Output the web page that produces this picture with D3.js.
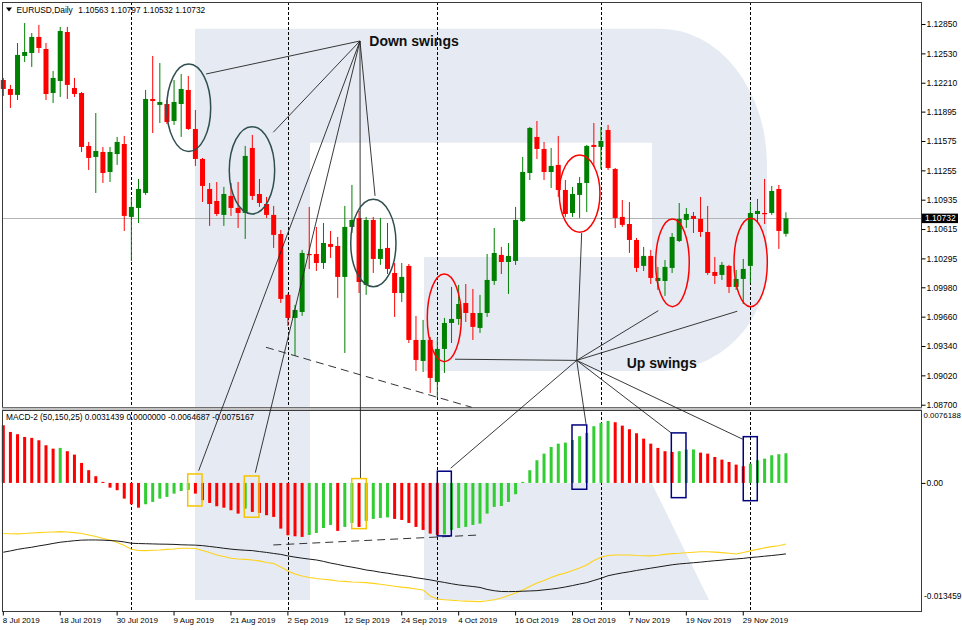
<!DOCTYPE html>
<html><head><meta charset="utf-8">
<script src="https://cdn.jsdelivr.net/npm/d3@7"></script>
<style>html,body{margin:0;padding:0;background:#fff;overflow:hidden}
svg text{font-family:"Liberation Sans",Arial,sans-serif}</style>
</head><body>
<svg id="c" width="962" height="630"></svg>
<script>
// ---------- DATA ----------
const symbol = "EURUSD,Daily";
const firstDate = "2019-07-08";
const open = [1.12240,1.12142,1.12077,1.12502,1.12534,1.12709,1.12578,1.12098,1.12229,1.12763,
1.12153,1.12098,1.11521,1.11401,1.11455,1.11237,1.11433,1.11542,1.10747,1.10845,
1.11008,1.12033,1.11968,1.11978,1.11793,1.11978,1.12131,1.11706,1.11379,1.11052,
1.10921,1.10769,1.10976,1.10845,1.10790,1.11499,1.10997,1.10888,1.10769,1.10561,
1.09897,1.09646,1.09711,1.10343,1.10343,1.10245,1.10452,1.10431,1.10093,1.10638,
1.10736,1.10006,1.10714,1.10289,1.10409,1.10136,1.09918,1.10213,1.09406,1.09177,
1.09406,1.08948,1.09308,1.09591,1.09635,1.09809,1.09700,1.09537,1.09700,1.10049,
1.10333,1.10256,1.10267,1.10703,1.11226,1.11619,1.11488,1.11237,1.11314,1.11041,
1.10790,1.10987,1.11117,1.11532,1.11510,1.11695,1.11270,1.10747,1.10670,1.10496,
1.10213,1.10322,1.10049,1.10049,1.10191,1.10485,1.10714,1.10758,1.10725,1.10583,
1.10147,1.10115,1.10213,1.09984,1.10071,1.10213,1.10779,1.10790,1.10790,1.11052,1.10563];
const high = [1.12262,1.12186,1.12643,1.12861,1.12752,1.12840,1.12643,1.12338,1.12818,1.12818,
1.12262,1.12109,1.11564,1.11880,1.11510,1.11510,1.11619,1.11630,1.10954,1.11161,
1.12131,1.12502,1.12425,1.12022,1.12240,1.12305,1.12284,1.11913,1.11390,1.11117,
1.11128,1.11074,1.11117,1.11128,1.11521,1.11641,1.11161,1.10965,1.10867,1.10605,
1.09910,1.09788,1.10387,1.10856,1.10638,1.10681,1.10594,1.10529,1.10867,1.11096,
1.10812,1.10747,1.10747,1.10736,1.10681,1.10245,1.10245,1.10234,1.09668,1.09624,
1.09439,1.09428,1.09646,1.09984,1.10006,1.10016,1.09962,1.09897,1.10343,1.10627,
1.10420,1.10463,1.10856,1.11401,1.11728,1.11793,1.11564,1.11499,1.11630,1.11150,
1.11074,1.11183,1.11532,1.11771,1.11728,1.11750,1.11281,1.10932,1.10910,1.10518,
1.10420,1.10387,1.10202,1.10278,1.10572,1.10899,1.10845,1.10801,1.10965,1.10867,
1.10311,1.10256,1.10224,1.10169,1.10289,1.10899,1.10943,1.11161,1.11085,1.11096,1.10797];
const low = [1.12066,1.11935,1.12022,1.12436,1.12382,1.12534,1.12022,1.11989,1.12055,1.12033,
1.12055,1.11455,1.11259,1.11008,1.11117,1.11128,1.11314,1.10594,1.10267,1.10681,
1.10987,1.11662,1.11771,1.11760,1.11750,1.11619,1.11695,1.11303,1.10910,1.10649,
1.10758,1.10649,1.10758,1.10627,1.10507,1.10932,1.10856,1.10736,1.10409,1.09809,
1.09559,1.09232,1.09668,1.10180,1.10158,1.10180,1.10300,1.09864,1.09264,1.10572,
1.09918,1.09897,1.10136,1.10224,1.10125,1.09657,1.09820,1.09373,1.09068,1.09057,
1.08828,1.08774,1.09046,1.09373,1.09570,1.09602,1.09406,1.09482,1.09657,1.10006,
1.10125,1.09907,1.10224,1.10692,1.11150,1.11379,1.11150,1.11063,1.10965,1.10747,
1.10747,1.10736,1.10801,1.11292,1.11270,1.11259,1.10627,1.10638,1.10354,1.10147,
1.10158,1.10016,1.09951,1.09886,1.10136,1.10474,1.10627,1.10572,1.10529,1.10115,
1.10016,1.10060,1.09918,1.09951,1.09798,1.10027,1.10692,1.10670,1.10769,1.10398,1.10532];
const close = [1.12142,1.12077,1.12513,1.12545,1.12709,1.12589,1.12087,1.12262,1.12774,1.12186,
1.12087,1.11510,1.11390,1.11466,1.11226,1.11455,1.11564,1.10758,1.10856,1.11052,
1.12033,1.12011,1.12000,1.11782,1.12000,1.12142,1.11706,1.11379,1.11085,1.10888,
1.10779,1.10997,1.10845,1.10790,1.11412,1.10976,1.10899,1.10769,1.10551,1.09853,
1.09646,1.09733,1.10354,1.10333,1.10245,1.10463,1.10420,1.10093,1.10638,1.10714,
1.10038,1.10714,1.10289,1.10398,1.10180,1.09918,1.10093,1.09406,1.09188,1.09406,
1.08992,1.09308,1.09591,1.09635,1.09798,1.09700,1.09548,1.09700,1.10060,1.10354,
1.10256,1.10322,1.10714,1.11237,1.11717,1.11488,1.11237,1.11303,1.11041,1.10779,
1.10997,1.11117,1.11521,1.11510,1.11575,1.11281,1.10736,1.10660,1.10496,1.10191,
1.10322,1.10082,1.10082,1.10202,1.10529,1.10725,1.10779,1.10725,1.10583,1.10136,
1.10104,1.10224,1.09984,1.10071,1.10180,1.10790,1.10812,1.10779,1.11030,1.10594,1.10732];

// MACD-2 (50,150,25) histogram and two lines
const macdHist = [0.00611,0.00540,0.00516,0.00487,0.00477,0.00452,0.00399,0.00363,0.00371,0.00336,
0.00300,0.00212,0.00135,0.00071,0.00011,-0.00050,-0.00077,-0.00166,-0.00226,-0.00262,
-0.00226,-0.00201,-0.00166,-0.00148,-0.00113,-0.00085,-0.00074,-0.00113,-0.00183,-0.00212,
-0.00247,-0.00262,-0.00289,-0.00325,-0.00272,-0.00307,-0.00318,-0.00342,-0.00360,-0.00484,
-0.00554,-0.00565,-0.00572,-0.00551,-0.00530,-0.00477,-0.00445,-0.00508,-0.00466,-0.00424,
-0.00466,-0.00402,-0.00381,-0.00371,-0.00365,-0.00381,-0.00392,-0.00424,-0.00466,-0.00498,
-0.00537,-0.00551,-0.00545,-0.00498,-0.00477,-0.00466,-0.00445,-0.00431,-0.00325,-0.00254,
-0.00244,-0.00201,-0.00120,0.00011,0.00135,0.00240,0.00310,0.00381,0.00416,0.00427,
0.00455,0.00495,0.00530,0.00601,0.00636,0.00657,0.00643,0.00607,0.00569,0.00526,
0.00469,0.00416,0.00371,0.00336,0.00328,0.00336,0.00353,0.00355,0.00321,0.00310,
0.00275,0.00247,0.00222,0.00194,0.00177,0.00204,0.00240,0.00257,0.00293,0.00304,0.0031439];
const macdYellow = [-0.00535,-0.00538,-0.00540,-0.00535,-0.00530,-0.00526,-0.00522,-0.00519,-0.00516,-0.00519,
-0.00526,-0.00535,-0.00551,-0.00567,-0.00588,-0.00604,-0.00630,-0.00662,-0.00702,-0.00715,
-0.00717,-0.00713,-0.00710,-0.00704,-0.00699,-0.00692,-0.00692,-0.00694,-0.00715,-0.00736,
-0.00763,-0.00779,-0.00798,-0.00805,-0.00810,-0.00816,-0.00826,-0.00842,-0.00853,-0.00890,
-0.00932,-0.00964,-0.00985,-0.01001,-0.01012,-0.01020,-0.01027,-0.01038,-0.01043,-0.01049,
-0.01052,-0.01056,-0.01064,-0.01073,-0.01084,-0.01094,-0.01104,-0.01112,-0.01123,-0.01133,
-0.01197,-0.01229,-0.01237,-0.01242,-0.01248,-0.01252,-0.01255,-0.01257,-0.01248,-0.01237,
-0.01218,-0.01192,-0.01165,-0.01133,-0.01096,-0.01059,-0.01033,-0.01001,-0.00974,-0.00953,
-0.00927,-0.00900,-0.00869,-0.00821,-0.00787,-0.00768,-0.00763,-0.00763,-0.00763,-0.00768,
-0.00771,-0.00773,-0.00766,-0.00757,-0.00749,-0.00745,-0.00739,-0.00734,-0.00729,-0.00729,
-0.00733,-0.00738,-0.00744,-0.00752,-0.00736,-0.00720,-0.00704,-0.00688,-0.00675,-0.00665,-0.0064687];
const macdBlack = [-0.00734,-0.00720,-0.00704,-0.00692,-0.00681,-0.00667,-0.00655,-0.00641,-0.00628,-0.00620,
-0.00612,-0.00606,-0.00604,-0.00604,-0.00606,-0.00610,-0.00615,-0.00625,-0.00639,-0.00642,
-0.00644,-0.00646,-0.00648,-0.00649,-0.00651,-0.00655,-0.00657,-0.00659,-0.00664,-0.00673,
-0.00682,-0.00692,-0.00701,-0.00708,-0.00713,-0.00717,-0.00727,-0.00736,-0.00747,-0.00757,
-0.00773,-0.00786,-0.00797,-0.00807,-0.00816,-0.00831,-0.00849,-0.00863,-0.00879,-0.00892,
-0.00906,-0.00922,-0.00932,-0.00946,-0.00956,-0.00969,-0.00980,-0.00990,-0.01004,-0.01015,
-0.01027,-0.01041,-0.01054,-0.01068,-0.01080,-0.01089,-0.01097,-0.01107,-0.01128,-0.01142,
-0.01150,-0.01151,-0.01150,-0.01147,-0.01144,-0.01141,-0.01133,-0.01125,-0.01115,-0.01102,
-0.01087,-0.01071,-0.01056,-0.01033,-0.01010,-0.00983,-0.00967,-0.00953,-0.00941,-0.00927,
-0.00915,-0.00903,-0.00891,-0.00879,-0.00867,-0.00858,-0.00852,-0.00845,-0.00839,-0.00831,
-0.00824,-0.00818,-0.00810,-0.00805,-0.00799,-0.00790,-0.00784,-0.00776,-0.00769,-0.00761,-0.0075167];

const macdHeader = "MACD-2 (50,150,25) 0.0031439 0.0000000 -0.0064687 -0.0075167";
const priceTicks = [1.12850,1.12530,1.12210,1.11895,1.11575,1.11255,1.10935,1.10615,1.10295,1.09980,1.09660,1.09340,1.09020,1.08700];
const priceDomain = [1.08675, 1.13090];
const macdTickLabels = ["0.0076188","0.00","-0.013459"];
const macdDomain = [-0.013459, 0.0076188];
const xTickLabels = ["8 Jul 2019","18 Jul 2019","30 Jul 2019","9 Aug 2019","21 Aug 2019","2 Sep 2019","12 Sep 2019",
"24 Sep 2019","4 Oct 2019","16 Oct 2019","28 Oct 2019","7 Nov 2019","19 Nov 2019","29 Nov 2019"];

// annotations (bar index, price / macd value)
const downHub = {i:50.13, p:1.12665};
const downToPrice = [{i:28.49,p:1.12305},{i:37.95,p:1.11670},{i:52.25,p:1.10976}];
const downToMacd = [{i:27.46,v:0.00130},{i:35.42,v:0.00109},{i:50.2,v:0.00046}];
const upHub = {i:80.59, p:1.09183};
const upToPrice = [{i:63.49,p:1.09196},{i:81.29,p:1.10572},{i:92.06,p:1.09725},{i:103.16,p:1.09719}];
const upToMacd = [{i:62.88,v:0.00156},{i:81.90,v:0.00625},{i:93.94,v:0.00526},{i:103.92,v:0.00463}];
const downEllipses = [[22.97,29.15,1.12414,1.11459],[31.76,38.14,1.11731,1.10779],[48.83,55.19,1.10940,1.09987]];
const upEllipses = [[59.59,64.37,1.10125,1.09169],[78.14,83.86,1.11423,1.10580],[91.69,96.41,1.10725,1.09769],[102.70,107.38,1.10733,1.09769]];
const yellowBoxes = [[25.92,27.93,0.00095,-0.00244],[33.87,35.94,0.00074,-0.00363],[48.97,51.02,0.00046,-0.00484]];
const blueBoxes = [[61.00,62.97,0.00124,-0.00561],[79.93,82.00,0.00614,-0.00067],[93.89,95.95,0.00530,-0.00156],[104.00,105.97,0.00490,-0.00188]];
const dashPrice = [{i:36.92,p:1.09326},{i:65.83,p:1.08672}];
const dashMacd = [{i:37.95,v:-0.00657},{i:67.0,v:-0.00551}];
const labelDown = {text:"Down swings", i:51.44, p:1.12605};
const labelUp = {text:"Up swings", i:87.62, p:1.09095};

// ---------- CHART ----------
const n = close.length;
const dates = [];
{ const d = new Date(firstDate + "T00:00:00Z");
  while (dates.length < n) { const wd = d.getUTCDay(); if (wd !== 0 && wd !== 6) dates.push(new Date(d)); d.setUTCDate(d.getUTCDate() + 1); } }
const fmt = d3.utcFormat("%-d %b %Y");

const svg = d3.select("#c");
const PL = 2, PR = 921, MT = 2, MB = 407, ST = 410, SB = 611;
const x = d3.scaleLinear().domain([0, n - 1]).range([3.3, 3.3 + (n - 1) * 7.115]);
const yP = d3.scaleLinear().domain(priceDomain).range([MB, MT]);
const yM = d3.scaleLinear().domain(macdDomain).range([SB - 1, ST + 1]);

svg.append("rect").attr("width", 962).attr("height", 630).attr("fill", "#fff");

// watermark logo
const wm = "#e6ebf3";
svg.append("path").attr("fill", wm)
  .attr("d", "M195,28.7H660A107,136 0 0 1 767,164.7V265A107,106 0 0 1 660,371H424V257H652V142.7H310V407H195Z");
svg.append("path").attr("fill", wm)
  .attr("d", "M195,410H310V600H195Z M424,483H651.7L709,600H424Z");

// current price line
const last = close[n - 1];
svg.append("line").attr("x1", PL).attr("x2", PR).attr("y1", Math.round(yP(last)) + 0.5).attr("y2", Math.round(yP(last)) + 0.5)
  .attr("stroke", "#b4b4b4").attr("stroke-width", 1);

// month separators
const sepIdx = d3.range(1, n).filter(i => dates[i].getUTCMonth() !== dates[i - 1].getUTCMonth());
svg.append("g").selectAll("line").data(sepIdx).join("line")
  .attr("x1", i => Math.round(x(i)) + 0.5).attr("x2", i => Math.round(x(i)) + 0.5)
  .attr("y1", MT).attr("y2", SB).attr("stroke", "#000").attr("stroke-width", 1).attr("stroke-dasharray", "3,2");

// candles
const idx = d3.range(n);
const col = i => close[i] >= open[i] ? "#008000" : "#ff0000";
const cg = svg.append("g");
cg.selectAll("line").data(idx).join("line")
  .attr("x1", i => x(i)).attr("x2", i => x(i))
  .attr("y1", i => yP(high[i])).attr("y2", i => yP(low[i]))
  .attr("stroke", col).attr("stroke-width", 1);
cg.selectAll("rect").data(idx).join("rect")
  .attr("x", i => x(i) - 2.5).attr("width", 5)
  .attr("y", i => yP(Math.max(open[i], close[i])))
  .attr("height", i => Math.max(1.2, yP(Math.min(open[i], close[i])) - yP(Math.max(open[i], close[i]))))
  .attr("fill", col);

// MACD histogram
const hcol = i => (i === 0 || macdHist[i] < macdHist[i - 1]) ? "#ff0000" : "#32cd32";
svg.append("g").selectAll("rect").data(idx).join("rect")
  .attr("x", i => x(i) - 1.5).attr("width", 3)
  .attr("y", i => Math.min(yM(0), yM(macdHist[i])))
  .attr("height", i => Math.max(0.8, Math.abs(yM(macdHist[i]) - yM(0))))
  .attr("fill", hcol);

const line = d3.line().x((d, i) => x(i)).y(d => yM(d));
svg.append("path").datum(macdYellow).attr("d", line).attr("fill", "none").attr("stroke", "#ffd21a").attr("stroke-width", 1.1);
svg.append("path").datum(macdBlack).attr("d", line).attr("fill", "none").attr("stroke", "#1a1a1a").attr("stroke-width", 1);

// frames
svg.append("rect").attr("x", PL + 0.5).attr("y", MT + 0.5).attr("width", PR - PL).attr("height", MB - MT)
  .attr("fill", "none").attr("stroke", "#3a3a3a");
svg.append("rect").attr("x", PL).attr("y", MB).attr("width", PR - PL + 1).attr("height", ST - MB).attr("fill", "#c4c4c4");
svg.append("line").attr("x1", PL).attr("x2", PR + 1).attr("y1", MB + 0.5).attr("y2", MB + 0.5).attr("stroke", "#6e6e6e");
svg.append("rect").attr("x", PL + 0.5).attr("y", ST + 0.5).attr("width", PR - PL).attr("height", SB - ST)
  .attr("fill", "none").attr("stroke", "#3a3a3a");

// axes
const styleAxis = g => { g.select(".domain").remove(); g.attr("font-family", "Liberation Sans, Arial, sans-serif"); g.selectAll("line").attr("stroke", "#000"); g.selectAll("text").attr("fill", "#000"); };
svg.append("g").attr("transform", `translate(${PR + 0.5},0)`)
  .call(d3.axisRight(yP).tickValues(priceTicks).tickSize(4).tickPadding(1).tickFormat(d3.format(".5f")))
  .call(styleAxis).attr("font-size", 8.5);
svg.append("g").attr("transform", `translate(${PR + 0.5},0)`)
  .call(d3.axisRight(yM).tickValues([0]).tickSize(4).tickPadding(1).tickFormat(() => macdTickLabels[1]))
  .call(styleAxis).attr("font-size", 8.5);
svg.append("text").attr("x", 923.5).attr("y", yM(macdDomain[1]) + 4.3).attr("dy", "0.32em").attr("font-size", 7.9).text(macdTickLabels[0]);
svg.append("text").attr("x", 924).attr("y", yM(macdDomain[0]) - 13.3).attr("dy", "0.32em").attr("font-size", 8.3).text(macdTickLabels[2]);

const xTickIdx = xTickLabels.map(l => idx.find(i => fmt(dates[i]) === l));
const xa = svg.append("g").attr("transform", `translate(0,${SB + 0.5})`)
  .call(d3.axisBottom(x).tickValues(xTickIdx).tickSize(4).tickPadding(2).tickFormat((d, k) => xTickLabels[k]))
  .call(styleAxis).attr("font-size", 8);
xa.selectAll(".tick line").attr("transform", "translate(-0.5,0)");
xa.selectAll("text").attr("text-anchor", "start").attr("x", -1);

// current price label
const yl = yP(last);
svg.append("rect").attr("x", 922).attr("y", yl - 4.7).attr("width", 36).attr("height", 9.5).attr("fill", "#000");
svg.append("text").attr("x", 925).attr("y", yl).attr("dy", "0.34em").attr("font-size", 8.5).attr("fill", "#fff").text(d3.format(".5f")(last));

// headers
svg.append("path").attr("d", "M6,7.6L12,7.6L9,11.4Z").attr("fill", "#000");
svg.append("text").attr("x", 16.5).attr("y", 12.6).attr("font-size", 8.4).text(symbol);
svg.append("text").attr("x", 78.3).attr("y", 12.6).attr("font-size", 8.3)
  .text([open[n - 1], high[n - 1], low[n - 1], close[n - 1]].map(d3.format(".5f")).join(" "));
svg.append("text").attr("x", 6).attr("y", 420).attr("font-size", 8.3).text(macdHeader);

// annotations
const ann = svg.append("g").attr("fill", "none");
const P = d => [x(d.i), yP(d.p)], M = d => [x(d.i), yM(d.v)];
const seg = (a, b, stroke, w, dash) => ann.append("line").attr("x1", a[0]).attr("y1", a[1]).attr("x2", b[0]).attr("y2", b[1])
  .attr("stroke", stroke).attr("stroke-width", w).attr("stroke-dasharray", dash || null);
downToPrice.forEach(d => seg(P(downHub), P(d), "#222", 0.9));
downToMacd.forEach(d => seg(P(downHub), M(d), "#222", 0.9));
upToPrice.forEach(d => seg(P(upHub), P(d), "#222", 0.9));
upToMacd.forEach(d => seg(P(upHub), M(d), "#222", 0.9));
seg(P(dashPrice[0]), P(dashPrice[1]), "#333", 1, "8,5");
seg(M(dashMacd[0]), M(dashMacd[1]), "#333", 1, "8,5");

const ell = (e, stroke) => ann.append("ellipse")
  .attr("cx", (x(e[0]) + x(e[1])) / 2).attr("cy", (yP(e[2]) + yP(e[3])) / 2)
  .attr("rx", (x(e[1]) - x(e[0])) / 2).attr("ry", (yP(e[3]) - yP(e[2])) / 2)
  .attr("stroke", stroke).attr("stroke-width", 1.5);
downEllipses.forEach(e => ell(e, "#2f4f4f"));
upEllipses.forEach(e => ell(e, "#ff0000"));
const box = (b, stroke) => ann.append("rect")
  .attr("x", x(b[0])).attr("y", yM(b[2])).attr("width", x(b[1]) - x(b[0])).attr("height", yM(b[3]) - yM(b[2]))
  .attr("stroke", stroke).attr("stroke-width", 1.5);
yellowBoxes.forEach(b => box(b, "#f5c400"));
blueBoxes.forEach(b => box(b, "#000080"));

svg.append("text").attr("x", x(labelDown.i)).attr("y", yP(labelDown.p)).attr("font-size", 14).attr("font-weight", "bold").attr("fill", "#111").text(labelDown.text);
svg.append("text").attr("x", x(labelUp.i)).attr("y", yP(labelUp.p)).attr("font-size", 14).attr("font-weight", "bold").attr("fill", "#111").text(labelUp.text);
</script>
</body></html>
